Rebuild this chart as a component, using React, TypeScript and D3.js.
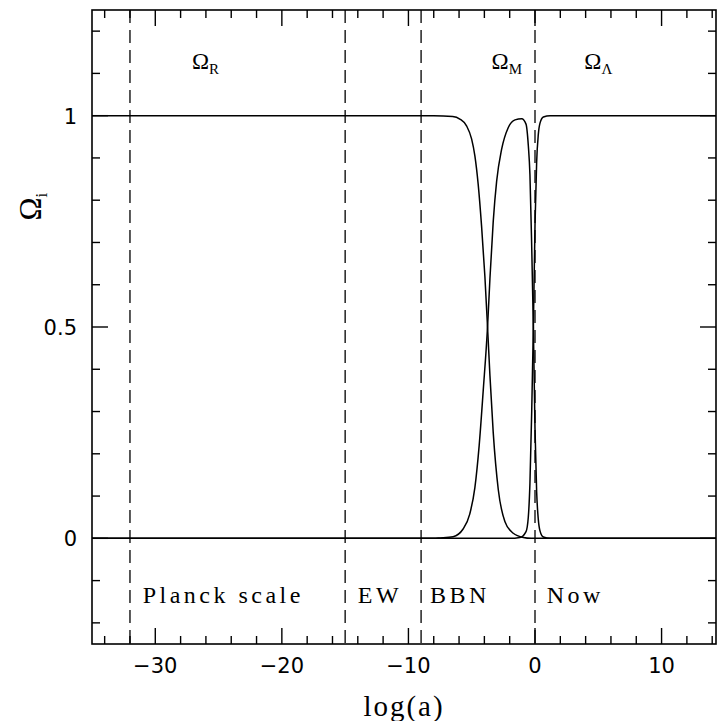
import React from "react";
import * as d3 from "d3";

// ---- data ----
const omegaR: [number, number][] = [
  [-35, 1], [-8, 1], [-6.5, 0.998], [-5.94, 0.992], [-5.41, 0.976], [-5.01, 0.945],
  [-4.75, 0.905], [-4.49, 0.838], [-4.22, 0.738], [-3.96, 0.62], [-3.75, 0.5],
  [-3.56, 0.385], [-3.3, 0.25], [-2.9, 0.115], [-2.38, 0.04], [-1.72, 0.012],
  [-0.93, 0.002], [-0.3, 0], [14.3, 0],
];
const omegaM: [number, number][] = [
  [-35, 0], [-8, 0], [-7.5, 0.001], [-6.47, 0.004], [-5.68, 0.022], [-5.15, 0.058],
  [-4.75, 0.12], [-4.41, 0.22], [-4.09, 0.35], [-3.75, 0.5], [-3.56, 0.615],
  [-3.3, 0.75], [-3.03, 0.845], [-2.64, 0.92], [-2.11, 0.972], [-1.58, 0.99],
  [-1.05, 0.993], [-0.71, 0.98], [-0.53, 0.93], [-0.4, 0.86], [-0.26, 0.69],
  [-0.13, 0.5], [0.0, 0.26], [0.13, 0.11], [0.26, 0.045], [0.4, 0.017],
  [0.66, 0.003], [1.2, 0], [14.3, 0],
];
const omegaL: [number, number][] = [
  [-35, 0], [-2, 0], [-1.19, 0.002], [-0.71, 0.016], [-0.53, 0.05], [-0.4, 0.13],
  [-0.26, 0.3], [-0.13, 0.5], [0.0, 0.74], [0.13, 0.89], [0.26, 0.955],
  [0.4, 0.983], [0.66, 0.997], [1.19, 1], [14.3, 1],
];
const epochLines = [-32, -15, -9, 0];
const epochLabels = [
  { text: "Planck scale", x: -31.0 },
  { text: "EW", x: -14.0 },
  { text: "BBN", x: -8.3 },
  { text: "Now", x: 0.93 },
];
const omegaLabels = [
  { sub: "R", x: -27.1 },
  { sub: "M", x: -3.43 },
  { sub: "\u039B", x: 3.9 },
];
const xMajor = [-30, -20, -10, 0, 10];
const xMinor = d3.range(-34, 15, 2);
const yMajor = [0, 0.5, 1];
const yMinor = d3.range(-0.2, 1.21, 0.1);
const yTickLabels = ["0", "0.5", "1"];

export default function App() {
  const W = 717, H = 721;
  const x = d3.scaleLinear().domain([-35, 14.3]).range([92, 716]);
  const y = d3.scaleLinear().domain([-0.25, 1.25]).range([644, 10]);
  const [x0, x1] = x.range();
  const [y0, y1] = y.range();
  const line = d3
    .line<[number, number]>()
    .x((d) => x(d[0]))
    .y((d) => y(d[1]))
    .curve(d3.curveMonotoneX);

  const tickFont = "DejaVu Sans, sans-serif";
  const textFont = "Liberation Serif, serif";

  return (
    <svg
      width={W}
      height={H}
      style={{ position: "absolute", left: 0, top: 0, background: "#fff" }}
    >
      <rect x={0} y={0} width={W} height={H} fill="#fff" />
      {/* epoch dashed lines */}
      {epochLines.map((v) => (
        <line
          key={v}
          x1={x(v)}
          x2={x(v)}
          y1={y1}
          y2={y0}
          stroke="#000"
          strokeWidth={1.3}
          strokeDasharray="13 7"
        />
      ))}
      {/* curves */}
      {[omegaR, omegaM, omegaL].map((s, i) => (
        <path key={i} d={line(s) || ""} fill="none" stroke="#000" strokeWidth={1.5} />
      ))}
      {/* frame */}
      <rect x={x0} y={y1} width={x1 - x0} height={y0 - y1} fill="none" stroke="#000" strokeWidth={1.6} />
      {/* x ticks */}
      {xMinor.map((v) => {
        const len = xMajor.includes(v) ? 16 : 8;
        return (
          <g key={"xt" + v}>
            <line x1={x(v)} x2={x(v)} y1={y0} y2={y0 - len} stroke="#000" strokeWidth={1.4} />
            <line x1={x(v)} x2={x(v)} y1={y1} y2={y1 + len} stroke="#000" strokeWidth={1.4} />
          </g>
        );
      })}
      {xMajor.map((v) => (
        <text
          key={"xl" + v}
          x={x(v)}
          y={673}
          fontFamily={tickFont}
          fontSize={21}
          textAnchor="middle"
        >
          {v < 0 ? "\u2212" + Math.abs(v) : String(v)}
        </text>
      ))}
      {/* y ticks */}
      {yMinor.map((v) => {
        const isMajor = yMajor.some((m) => Math.abs(m - v) < 1e-6);
        const len = isMajor ? 16 : 8;
        return (
          <g key={"yt" + v.toFixed(1)}>
            <line x1={x0} x2={x0 + len} y1={y(v)} y2={y(v)} stroke="#000" strokeWidth={1.4} />
            <line x1={x1} x2={x1 - len} y1={y(v)} y2={y(v)} stroke="#000" strokeWidth={1.4} />
          </g>
        );
      })}
      {yMajor.map((v, i) => (
        <text
          key={"yl" + v}
          x={77}
          y={y(v) + 8}
          fontFamily={tickFont}
          fontSize={21}
          textAnchor="end"
        >
          {yTickLabels[i]}
        </text>
      ))}
      {/* axis titles */}
      <text
        x={(x0 + x1) / 2}
        y={716}
        fontFamily={textFont}
        fontSize={29}
        letterSpacing={2}
        textAnchor="middle"
      >
        log(a)
      </text>
      <text
        transform={`translate(41, ${y(0.785)}) rotate(-90)`}
        fontFamily={textFont}
        fontSize={31}
        textAnchor="middle"
      >
        {"\u03A9"}
        <tspan fontSize={17} dy={6}>i</tspan>
      </text>
      {/* epoch labels */}
      {epochLabels.map((l) => (
        <text
          key={l.text}
          x={x(l.x)}
          y={y(-0.153)}
          fontFamily={textFont}
          fontSize={24}
          letterSpacing={3.5}
        >
          {l.text}
        </text>
      ))}
      {/* omega labels */}
      {omegaLabels.map((l) => (
        <text key={l.sub} x={x(l.x)} y={y(1.11)} fontFamily={textFont} fontSize={23}>
          {"\u03A9"}
          <tspan fontSize={15} dy={5}>{l.sub}</tspan>
        </text>
      ))}
    </svg>
  );
}
